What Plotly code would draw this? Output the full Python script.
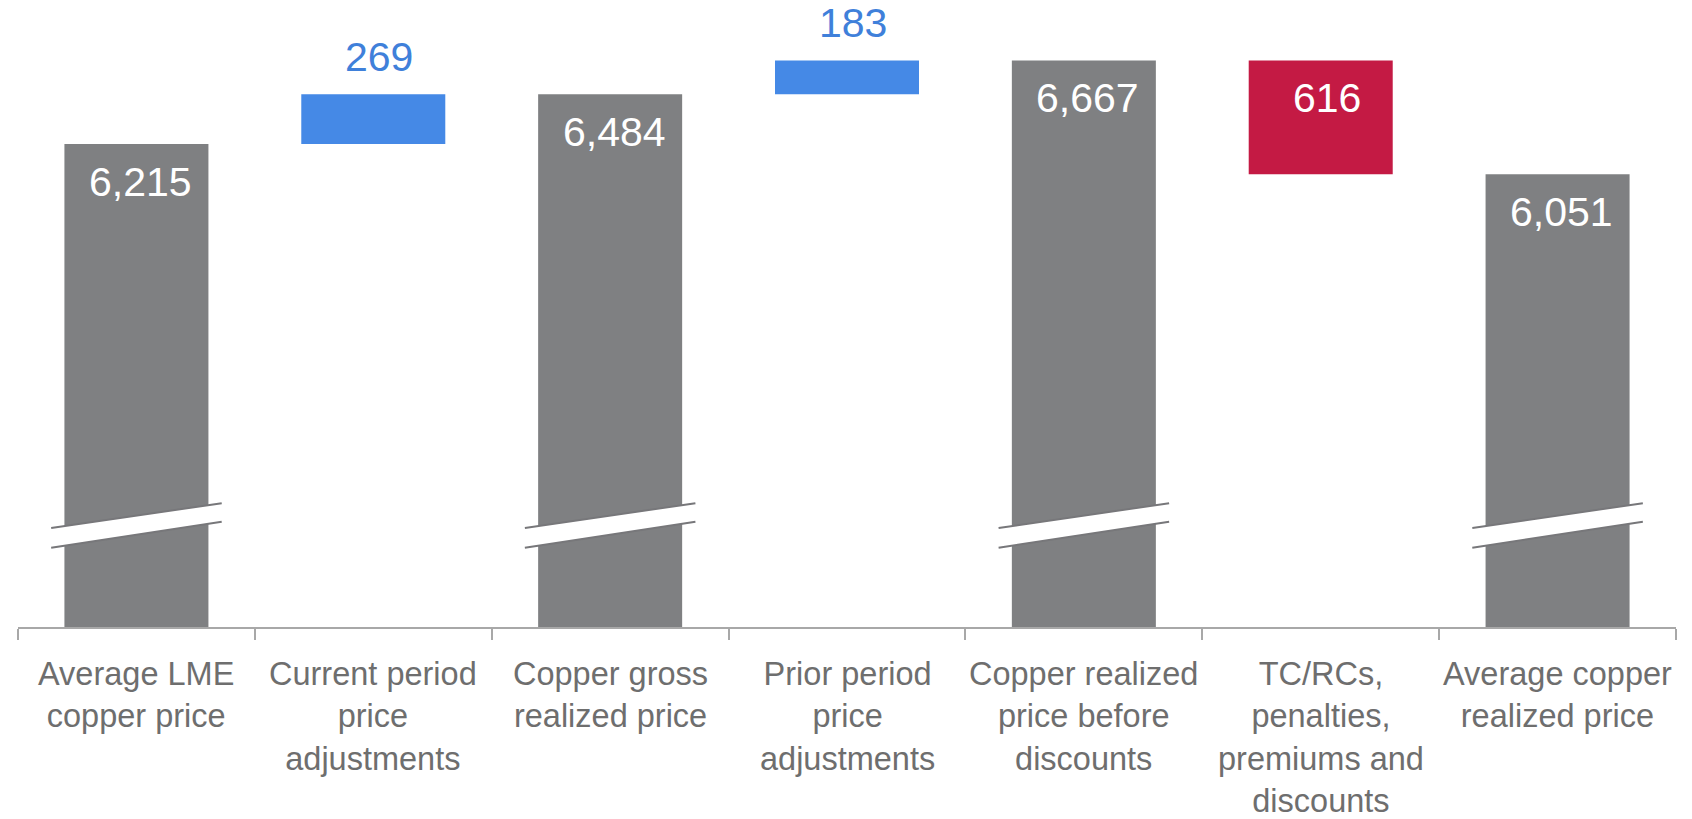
import plotly.graph_objects as go

categories = [
    "Average LME<br>copper price",
    "Current period<br>price<br>adjustments",
    "Copper gross<br>realized price",
    "Prior period<br>price<br>adjustments",
    "Copper realized<br>price before<br>discounts",
    "TC/RCs,<br>penalties,<br>premiums and<br>discounts",
    "Average copper<br>realized price",
]
kinds = ["total", "up", "total", "up", "total", "down", "total"]
values = [6215, 269, 6484, 183, 6667, 616, 6051]
value_labels = ["6,215", "269", "6,484", "183", "6,667", "616", "6,051"]

GRAY = "#7f8082"
BLUE = "#4589e6"
RED = "#c41a44"
LABEL_BLUE = "#3f80da"
TEXT_GRAY = "#6e6e6e"
AXIS_GRAY = "#a8a8a8"

# build bar bases / heights from data
bases, heights, colors, tops = [], [], [], []
running = 0
for k, v in zip(kinds, values):
    if k == "total":
        bases.append(0)
        heights.append(v)
        colors.append(GRAY)
        running = v
        tops.append(v)
    elif k == "up":
        bases.append(running)
        heights.append(v)
        colors.append(BLUE)
        running = running + v
        tops.append(running)
    else:
        bases.append(running)
        heights.append(-v)
        colors.append(RED)
        tops.append(running)
        running = running - v

x_idx = list(range(len(categories)))

fig = go.Figure()
fig.add_trace(go.Bar(
    x=x_idx, y=heights, base=bases,
    marker=dict(color=colors, line=dict(width=0)),
    width=0.608, hoverinfo="skip",
))

annotations = []
for i, (k, lab, top) in enumerate(zip(kinds, value_labels, tops)):
    if k == "up":
        annotations.append(dict(x=i, y=top, xref="x", yref="y", text=lab,
                                showarrow=False, yanchor="middle", yshift=37, xshift=6,
                                font=dict(size=41, color=LABEL_BLUE, family="Liberation Sans, Arial")))
    else:
        annotations.append(dict(x=i, y=top, xref="x", yref="y", text=lab,
                                showarrow=False, yanchor="middle", yshift=-38,
                                xshift=6 if k == "down" else 4,
                                font=dict(size=41, color="white", family="Liberation Sans, Arial")))

for i, cat in enumerate(categories):
    annotations.append(dict(x=i, y=0, xref="x", yref="paper", text=cat,
                            showarrow=False, yanchor="top", yshift=-28, borderpad=0,
                            font=dict(size=32.5, color=TEXT_GRAY, family="Liberation Sans, Arial")))

shapes = []
hw = 0.36
yl_up, yr_up, yl_lo, yr_lo = 4136, 4270, 4029, 4170
for i, k in enumerate(kinds):
    if k != "total":
        continue
    x0, x1 = i - hw, i + hw
    shapes.append(dict(type="path", xref="x", yref="y",
                       path=f"M {x0} {yl_up} L {x1} {yr_up} L {x1} {yr_lo} L {x0} {yl_lo} Z",
                       fillcolor="white", line=dict(width=0), layer="above"))
    shapes.append(dict(type="line", xref="x", yref="y", x0=x0, y0=yl_up, x1=x1, y1=yr_up,
                       line=dict(color="#77777a", width=2), layer="above"))
    shapes.append(dict(type="line", xref="x", yref="y", x0=x0, y0=yl_lo, x1=x1, y1=yr_lo,
                       line=dict(color="#77777a", width=2), layer="above"))

fig.update_layout(
    width=1692, height=819,
    margin=dict(l=18, r=16, t=0, b=192),
    paper_bgcolor="white", plot_bgcolor="white",
    showlegend=False,
    annotations=annotations,
    shapes=shapes,
    xaxis=dict(range=[-0.5, 6.5], tickmode="array", tickvals=[-0.5 + j for j in range(8)],
               ticktext=[""] * 8, showticklabels=False,
               ticks="outside", ticklen=11, tickcolor=AXIS_GRAY, tickwidth=2,
               showline=True, linecolor=AXIS_GRAY, linewidth=2, showgrid=False, zeroline=False),
    yaxis=dict(range=[3600, 6994], visible=False, showgrid=False, zeroline=False),
)

fig.write_html("out.html")
